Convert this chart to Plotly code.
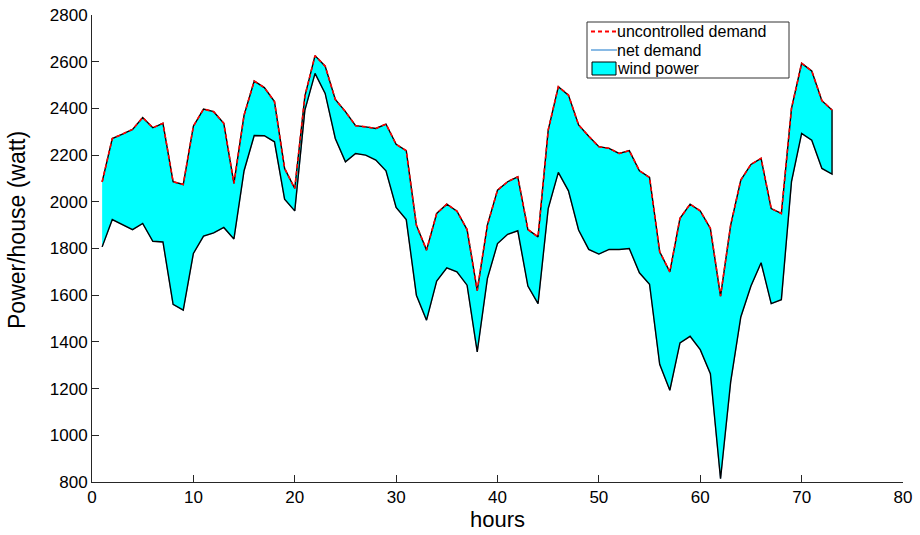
import plotly.graph_objects as go

hours = list(range(1, 74))

uncontrolled = [
    2085, 2271, 2290, 2310, 2361, 2317, 2336, 2086, 2074, 2324,
    2397, 2386, 2336, 2079, 2371, 2517, 2489, 2429, 2143, 2057,
    2453, 2626, 2581, 2438, 2386, 2326, 2321, 2314, 2333, 2246,
    2219, 1900, 1793, 1950, 1990, 1960, 1881, 1620, 1900, 2050,
    2086, 2107, 1881, 1850, 2307, 2493, 2457, 2329, 2281, 2236,
    2229, 2207, 2219, 2133, 2104, 1786, 1700, 1929, 1990, 1961,
    1886, 1596, 1900, 2093, 2160, 2186, 1971, 1950, 2400, 2593,
    2560, 2433, 2393,
]

net = [
    1807, 1924, 1903, 1881, 1907, 1831, 1828, 1561, 1536, 1779,
    1853, 1867, 1890, 1841, 2133, 2284, 2283, 2257, 2011, 1961,
    2393, 2550, 2464, 2271, 2171, 2207, 2200, 2179, 2133, 1976,
    1924, 1600, 1493, 1661, 1717, 1700, 1643, 1357, 1671, 1821,
    1861, 1876, 1639, 1564, 1971, 2126, 2047, 1879, 1796, 1776,
    1796, 1796, 1800, 1696, 1647, 1304, 1193, 1396, 1424, 1367,
    1264, 814, 1229, 1507, 1639, 1739, 1564, 1581, 2086, 2293,
    2264, 2143, 2119,
]

x_ticks = [0, 10, 20, 30, 40, 50, 60, 70, 80]
y_ticks = [800, 1000, 1200, 1400, 1600, 1800, 2000, 2200, 2400, 2600, 2800]

legend_labels = ["uncontrolled demand", "net demand", "wind power"]
x_title = "hours"
y_title = "Power/house (watt)"

FONT = "Liberation Sans, Arial, Helvetica, sans-serif"

W, H = 920, 535
ML, MR, MT, MB = 92, 17, 15, 53
PW, PH = W - ML - MR, H - MT - MB


def px_x(p):
    return (p - ML) / PW


def px_y(p):
    return (H - MB - p) / PH


RED = "red"
BLUE = "#62a3dc"
CYAN = "#00ffff"

fig = go.Figure()

fig.add_trace(go.Scatter(
    x=hours, y=net, mode="lines", name=legend_labels[1],
    line=dict(color=BLUE, width=1.2), showlegend=False,
))

fig.add_trace(go.Scatter(
    x=hours + hours[::-1], y=uncontrolled + net[::-1],
    mode="lines", fill="toself", fillcolor=CYAN,
    line=dict(color="black", width=1.4), name=legend_labels[2], showlegend=False,
))

fig.add_trace(go.Scatter(
    x=hours, y=uncontrolled, mode="lines", name=legend_labels[0],
    line=dict(color=RED, width=1.6, dash="4px,3px"), showlegend=False,
))

axis_common = dict(
    showgrid=False, zeroline=False, showline=True, linecolor="#262626",
    linewidth=1, ticks="inside", ticklen=7, tickcolor="#262626",
    tickfont=dict(family=FONT, size=17, color="black"),
    mirror=False, automargin=False,
)

# legend drawn as a box with samples and text
box = dict(x0=587, x1=789, y0=22, y1=78)
rows_y = [31.5, 50, 68.5]
shapes = [
    dict(type="rect", xref="paper", yref="paper",
         x0=px_x(box["x0"]), x1=px_x(box["x1"]),
         y0=px_y(box["y1"]), y1=px_y(box["y0"]),
         line=dict(color="#333333", width=1), fillcolor="white", layer="above"),
    dict(type="line", xref="paper", yref="paper",
         x0=px_x(591), x1=px_x(617), y0=px_y(rows_y[0]), y1=px_y(rows_y[0]),
         line=dict(color=RED, width=1.8, dash="4px,3px"), layer="above"),
    dict(type="line", xref="paper", yref="paper",
         x0=px_x(591), x1=px_x(617), y0=px_y(rows_y[1]), y1=px_y(rows_y[1]),
         line=dict(color=BLUE, width=1.5), layer="above"),
    dict(type="rect", xref="paper", yref="paper",
         x0=px_x(592), x1=px_x(616), y0=px_y(rows_y[2] + 6.5), y1=px_y(rows_y[2] - 6.5),
         line=dict(color="black", width=1), fillcolor=CYAN, layer="above"),
]
annotations = [
    dict(xref="paper", yref="paper", x=px_x(616), y=px_y(ry), text=lbl,
         xanchor="left", yanchor="middle", showarrow=False, borderpad=0,
         font=dict(family=FONT, size=16, color="black"))
    for lbl, ry in zip(legend_labels, rows_y)
]
annotations.append(dict(
    xref="paper", yref="paper", x=px_x(17), y=px_y(230), text=y_title,
    textangle=-90, xanchor="center", yanchor="middle", showarrow=False,
    font=dict(family=FONT, size=23, color="black"),
))

fig.update_layout(
    width=W, height=H,
    margin=dict(l=ML, r=MR, t=MT, b=MB),
    paper_bgcolor="white", plot_bgcolor="white",
    font=dict(family=FONT, color="black"),
    xaxis=dict(range=[0, 80], tickvals=x_ticks,
               title=dict(text=x_title, font=dict(size=22), standoff=4),
               **axis_common),
    yaxis=dict(range=[800, 2800], tickvals=y_ticks, **axis_common),
    shapes=shapes,
    annotations=annotations,
    showlegend=False,
)

fig.write_html("out.html")
